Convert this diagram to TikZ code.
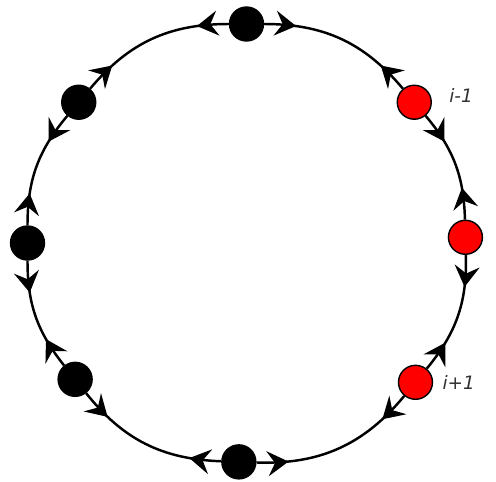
\documentclass[tikz,border=0pt]{standalone}
\usepackage{fontspec}
\setsansfont{DejaVu Sans}
\usetikzlibrary{positioning,arrows.meta,decorations.markings}

\begin{document}
\begin{tikzpicture}[
  x=0.02cm, y=0.02cm,
  site/.style={circle, draw, line width=0.8pt, fill=black,
               minimum size=0.68cm, inner sep=0pt},
  hot/.style={site, fill=red},
  link/.style={line width=1.4pt, postaction={decorate},
               decoration={markings,
                 mark=at position 0.64cm with {\arrow{Stealth[length=0.42cm, width=0.5cm, inset=0.15cm]}},
                 mark=at position -0.64cm with {\arrowreversed{Stealth[length=0.42cm, width=0.5cm, inset=0.15cm]}}}},
  lbl/.style={font=\sffamily\itshape\fontsize{10.5}{12}\selectfont,
              text=black!80, inner sep=0pt},
]
\useasboundingbox (-246.5,-238) rectangle (249.5,243);

% sites on the ring
\foreach \a/\n/\s in {90/1/site, 40/2/hot, 1.5/3/hot, -39.5/4/hot,
                      -92/5/site, -141.5/6/site, -180/7/site, -220/8/site}
  \node[\s] (n\n) at (\a:219) {};

% ring links between neighbours
\foreach \p/\q/\b in {1/2/25, 2/3/19.25, 3/4/20.5, 4/5/26.25,
                      5/6/24.75, 6/7/19.25, 7/8/20, 8/1/25}
  \draw[link] (n\p) to[bend left=\b] (n\q);

% labels
\node[lbl, right=0.34cm of n2, yshift=0.14cm] (lm) {i-1};
\node[lbl, right=0.18cm of n4] (lp) {i+1};
\end{tikzpicture}
\end{document}
